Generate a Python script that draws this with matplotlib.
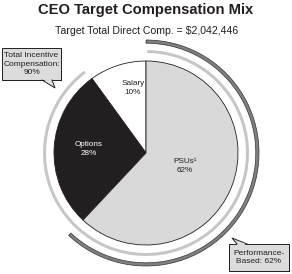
import matplotlib
matplotlib.use("Agg")
import matplotlib.pyplot as plt
from matplotlib.patches import Wedge, Polygon

plt.rcParams['font.family'] = ['Liberation Sans', 'DejaVu Sans']

# data
labels = ["Salary", "Options", "PSUs¹"]
shares = [10, 28, 62]
colors = ["white", "#231f20", "#d9d9d9"]
text_colors = ["#231f20", "white", "#231f20"]
title = "CEO Target Compensation Mix"
subtitle = "Target Total Direct Comp. = $2,042,446"
incentive_text = "Total Incentive\nCompensation:\n90%"
perf_text = "Performance-\nBased: 62%"

W, H = 292, 274
fig = plt.figure(figsize=(W / 100, H / 100), dpi=100)
ax = fig.add_axes([0, 0, 1, 1])


def py(y):
    # pixel row -> data y
    return H - y


cx, cy, r = 146, py(153), 92

ax.pie(shares, colors=colors, startangle=90, counterclock=True,
       center=(cx, cy), radius=r, frame=True,
       wedgeprops=dict(edgecolor="#231f20", linewidth=0.6))
ax.set_xlim(0, W)
ax.set_ylim(0, H)
ax.set_aspect("equal")
ax.axis("off")

# slice labels
label_pos = [(133, 88), (89, 149), (185, 166)]
for lab, s, (x, y), tc in zip(labels, shares, label_pos, text_colors):
    ax.text(x, py(y), f"{lab}\n{s}%", ha="center", va="center", fontsize=5.9,
            color=tc, linespacing=1.3)

# rings
salary_angle = 360 * shares[0] / 100
incentive_start = 90 + salary_angle
ax.add_patch(Wedge((cx, cy), 103, incentive_start + 1, 450 - 0.8, width=3,
                   facecolor="#c6c6c6", edgecolor="none"))
perf_start = 90 + 360 * (shares[0] + shares[1]) / 100
ax.add_patch(Wedge((cx, cy), 113, perf_start, 450, width=3.2,
                   facecolor="#808080", edgecolor="#333333", linewidth=0.5))


# callout boxes
def callout(x0, y0, x1, y1, base, tip, text):
    sh = 1.0
    ax.add_patch(Polygon([(x0 + sh, py(y0 + sh)), (x1 + sh, py(y0 + sh)),
                          (x1 + sh, py(y1 + sh)), (x0 + sh, py(y1 + sh))],
                         closed=True, facecolor="#231f20", edgecolor="none", zorder=4))
    ax.add_patch(Polygon([(x0, py(y0)), (x1, py(y0)), (x1, py(y1)), (x0, py(y1))],
                         closed=True, facecolor="#dcdcdc", edgecolor="#231f20",
                         linewidth=0.7, zorder=5))
    (bx0, by0), (bx1, by1) = base
    # fill (slightly into the box to hide the edge) then outline
    dy = 1.2 if by0 > tip[1] else -1.2
    ax.add_patch(Polygon([(bx0 + 0.4, py(by0 + dy)), (tip[0], py(tip[1])),
                          (bx1 - 0.4, py(by1 + dy))],
                         closed=True, facecolor="#dcdcdc", edgecolor="none", zorder=6))
    ax.plot([bx0, tip[0], bx1], [py(by0), py(tip[1]), py(by1)],
            color="#231f20", lw=0.7, zorder=6, solid_joinstyle="miter")
    ax.text((x0 + x1) / 2, py((y0 + y1) / 2), text, ha="center", va="center",
            fontsize=6.0, color="#231f20", linespacing=1.25, zorder=7)


callout(2, 48, 61, 80, ((42, 80), (52, 80)), (55, 88), incentive_text)
callout(229, 244, 289, 271, ((237, 244), (247, 244)), (232, 238), perf_text)

ax.text(W / 2, py(10), title, ha="center", va="center", fontsize=10.6,
        fontweight="bold", color="#231f20")
ax.text(W / 2 + 1, py(31), subtitle, ha="center", va="center", fontsize=7.6,
        color="#231f20")

fig.savefig("out.png", dpi=100)
